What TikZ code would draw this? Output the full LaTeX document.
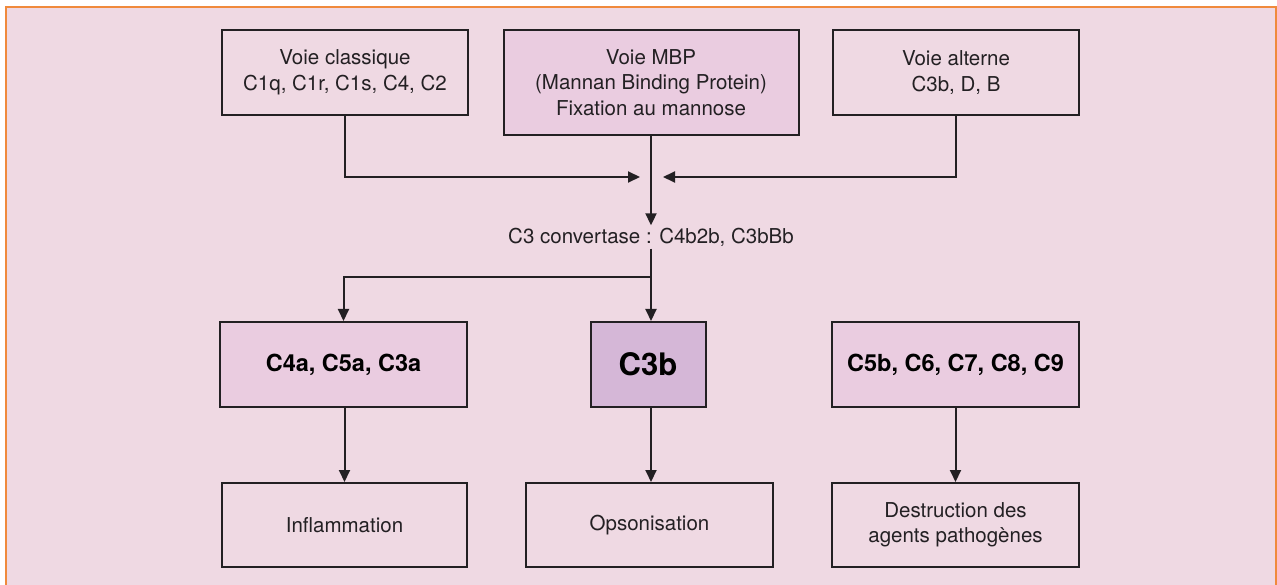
\documentclass[tikz,border=0pt]{standalone}
\usepackage{fontspec}
\setmainfont{TeX Gyre Heros}
\usetikzlibrary{arrows.meta}
\definecolor{bgpink}{RGB}{239,217,227}
\definecolor{boxpink}{RGB}{234,204,224}
\definecolor{boxmauve}{RGB}{213,183,215}
\definecolor{frameorange}{RGB}{240,138,60}
\definecolor{inkgrey}{RGB}{35,32,35}

\tikzset{
	box/.style={draw=inkgrey, line width=2pt, align=center, inner sep=0pt,
		font=\fontsize{20.5}{25.5}\selectfont, text=inkgrey},
	boldbox/.style={box, font=\fontsize{23.5}{26}\selectfont\bfseries, text=black},
	arr/.style={draw=inkgrey, line width=2pt, -{Triangle[length=12pt, width=11pt]}},
}

\begin{document}
\begin{tikzpicture}[x=1pt, y=-1pt, line cap=butt, line join=miter]
		
		%Frame
		\useasboundingbox (0,0) rectangle (1277,585);
		\fill[white] (0,0) rectangle (1277,585);
		\fill[bgpink] (6,7) rectangle (1276,590);
		\draw[frameorange, line width=2.5pt] (6,590) -- (6,7) -- (1276,7) -- (1276,590);
		
		%Pathways
		\node[box, minimum width=246pt, minimum height=85pt] (classique) at (345,72.5) {Voie classique\\C1q, C1r, C1s, C4, C2};
		\node[box, fill=boxpink, minimum width=295pt, minimum height=105pt] (mbp) at (651,82.5) {Voie MBP\\(Mannan Binding Protein)\\Fixation au mannose};
		\node[box, minimum width=246pt, minimum height=85pt] (alterne) at (956,72.5) {Voie alterne\\C3b, D, B};
		
		%Convertase
		\node[font=\fontsize{20.5}{22}\selectfont, text=inkgrey] (conv) at (651,237) {C3 convertase : C4b2b, C3bBb};
		\coordinate (join) at (651,177);
		\coordinate (split) at (651,277);
		
		%Products
		\node[boldbox, fill=boxpink, minimum width=247pt, minimum height=85pt] (c4a) at (343.5,364.5) {C4a, C5a, C3a};
		\node[boldbox, fill=boxmauve, minimum width=115pt, minimum height=85pt, font=\fontsize{31}{32}\selectfont\bfseries] (c3b) at (648,364.5) {C3b};
		\node[boldbox, fill=boxpink, minimum width=247pt, minimum height=85pt] (c5b) at (955.5,364.5) {C5b, C6, C7, C8, C9};
		
		%Effects
		\node[box, minimum width=245pt, minimum height=84pt] (infl) at (344.5,525) {Inflammation};
		\node[box, minimum width=247pt, minimum height=84pt] (opso) at (649.5,525) {Opsonisation};
		\node[box, minimum width=247pt, minimum height=84pt] (destr) at (955.5,525) {Destruction des\\agents pathogènes};
		
		%Arrows
		\draw[arr, shorten >=11pt] (classique.south) |- (join);
		\draw[arr, shorten >=12pt] (alterne.south) |- (join);
		\draw[arr] (mbp.south) -- ([yshift=-1pt]conv.north -| mbp.south);
		\draw[arr] ([yshift=1pt]conv.south -| mbp.south) -- (mbp.south |- c3b.north);
		\draw[arr] (split) -| (c4a.north);
		\draw[arr] (c4a.south -| infl.north) -- (infl.north);
		\draw[arr] (c3b.south -| mbp.south) -- (mbp.south |- opso.north);
		\draw[arr] (c5b.south) -- (destr.north);
		
	\end{tikzpicture}
\end{document}
